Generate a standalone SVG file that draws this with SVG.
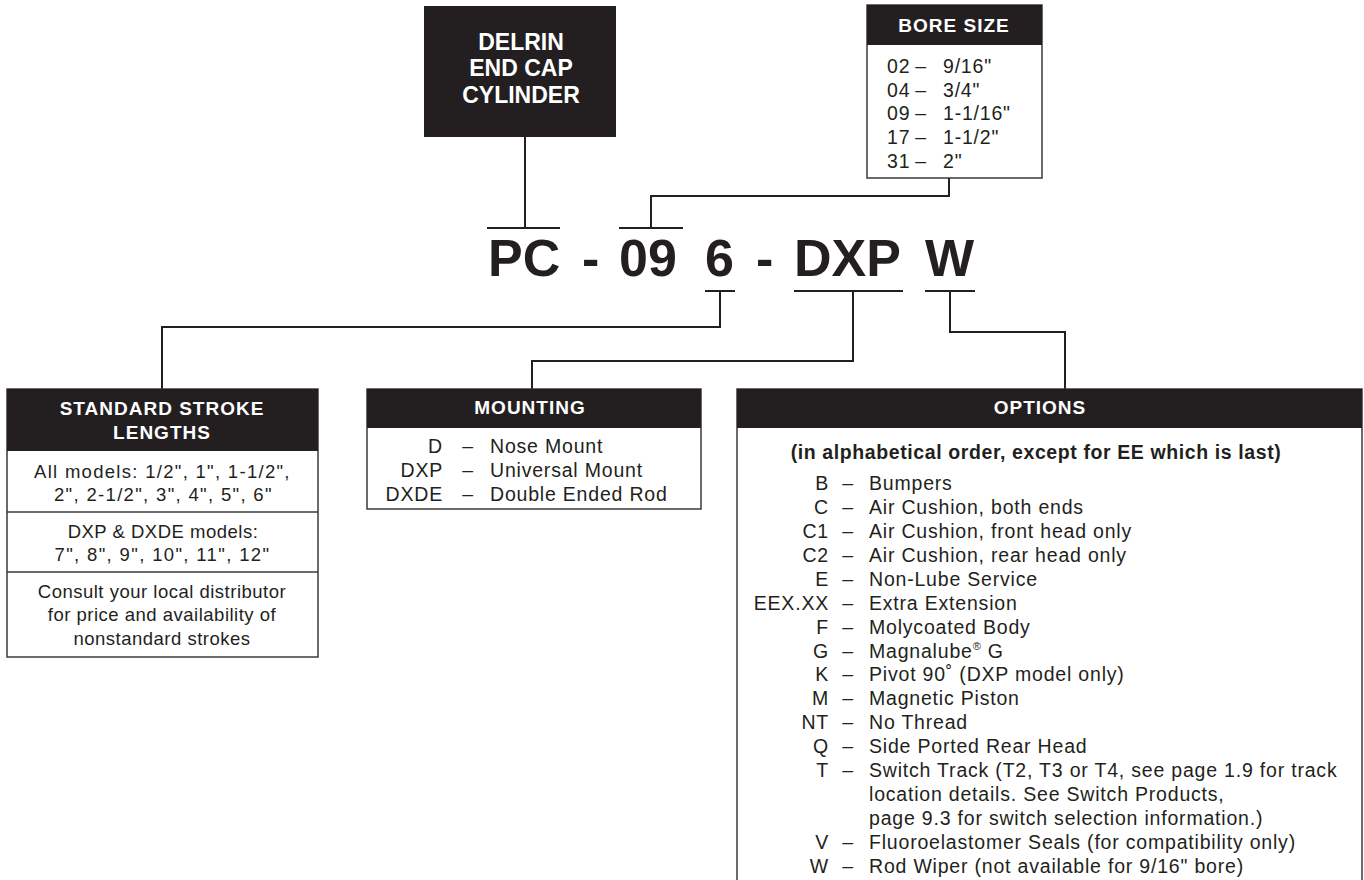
<svg xmlns="http://www.w3.org/2000/svg" width="1364" height="880" viewBox="0 0 1364 880">
<style>
.hdr{fill:#231f20}
.box{fill:#fff;stroke:#3a3a3a;stroke-width:1.5}
.conn{fill:none;stroke:#231f20;stroke-width:2}
.bar{stroke:#231f20;stroke-width:2}
.ht{font-family:"Liberation Sans",Arial,sans-serif;font-weight:bold;fill:#fff;font-size:19px;letter-spacing:1px;text-anchor:middle}
.big{font-family:"Liberation Sans",Arial,sans-serif;font-weight:bold;fill:#fff;font-size:23px;text-anchor:middle}
.bt{font-family:"Liberation Sans",Arial,sans-serif;font-size:19.5px;letter-spacing:0.8px;fill:#231f20}
.st{font-family:"Liberation Sans",Arial,sans-serif;font-size:18.5px;letter-spacing:0.5px;fill:#231f20;text-anchor:middle}
.sub{font-family:"Liberation Sans",Arial,sans-serif;font-size:19.5px;font-weight:bold;letter-spacing:0.6px;fill:#231f20;text-anchor:middle}
.code{font-family:"Liberation Sans",Arial,sans-serif;font-weight:bold;font-size:52px;fill:#231f20}
.e{text-anchor:end}
.m{text-anchor:middle}
</style>

<g id="connectors">
  <line class="bar" x1="487" y1="228" x2="560" y2="228"/>
  <line class="bar" x1="619" y1="228" x2="683" y2="228"/>
  <line class="bar" x1="705" y1="291" x2="735" y2="291"/>
  <line class="bar" x1="794" y1="291" x2="903" y2="291"/>
  <line class="bar" x1="925" y1="291" x2="975" y2="291"/>
  <path class="conn" d="M525,137 V228"/>
  <path class="conn" d="M949,178 V196 H651 V228"/>
  <path class="conn" d="M720,291 V327 H162 V389"/>
  <path class="conn" d="M853,291 V361 H532 V389"/>
  <path class="conn" d="M950,291 V332 H1065 V389"/>
</g>

<g id="model-code">
  <text class="code" y="276"><tspan x="488">PC</tspan><tspan x="582">-</tspan><tspan x="619">09</tspan><tspan x="705">6</tspan><tspan x="756">-</tspan><tspan x="794">DXP</tspan><tspan x="925">W</tspan></text>
</g>

<g id="delrin">
  <rect class="hdr" x="424" y="6" width="192" height="131"/>
  <text class="big" x="521" y="50">DELRIN</text>
  <text class="big" x="521" y="76">END CAP</text>
  <text class="big" x="521" y="103">CYLINDER</text>
</g>

<g id="bore-size">
  <rect class="box" x="867" y="5" width="175" height="173"/>
  <rect class="hdr" x="867" y="5" width="175" height="40"/>
  <text class="ht" x="954" y="32">BORE SIZE</text>
  <g class="bt">
    <text x="887" y="73">02</text><text class="m" x="921" y="73">–</text><text x="943" y="73">9/16"</text>
    <text x="887" y="97">04</text><text class="m" x="921" y="97">–</text><text x="943" y="97">3/4"</text>
    <text x="887" y="120">09</text><text class="m" x="921" y="120">–</text><text x="943" y="120">1-1/16"</text>
    <text x="887" y="144">17</text><text class="m" x="921" y="144">–</text><text x="943" y="144">1-1/2"</text>
    <text x="887" y="168">31</text><text class="m" x="921" y="168">–</text><text x="943" y="168">2"</text>
  </g>
</g>

<g id="stroke-lengths">
  <rect class="box" x="7" y="389" width="311" height="268"/>
  <rect class="hdr" x="7" y="389" width="311" height="62"/>
  <line class="box" x1="7" y1="512" x2="318" y2="512"/>
  <line class="box" x1="7" y1="572" x2="318" y2="572"/>
  <text class="ht" x="162" y="415">STANDARD STROKE</text>
  <text class="ht" x="162" y="439">LENGTHS</text>
  <text class="st" x="162" y="478" textLength="256" lengthAdjust="spacing">All models: 1/2", 1", 1-1/2",</text>
  <text class="st" x="163" y="501" textLength="218" lengthAdjust="spacing">2", 2-1/2", 3", 4", 5", 6"</text>
  <text class="st" x="163" y="538">DXP &amp; DXDE models:</text>
  <text class="st" x="162" y="561" textLength="215" lengthAdjust="spacing">7", 8", 9", 10", 11", 12"</text>
  <text class="st" x="162" y="598">Consult your local distributor</text>
  <text class="st" x="162" y="621">for price and availability of</text>
  <text class="st" x="162" y="645">nonstandard strokes</text>
</g>

<g id="mounting">
  <rect class="box" x="367" y="389" width="334" height="120"/>
  <rect class="hdr" x="367" y="389" width="334" height="39"/>
  <text class="ht" x="530" y="414">MOUNTING</text>
  <g class="bt">
    <text class="e" x="443" y="453">D</text><text class="m" x="468" y="453">–</text><text x="490" y="453">Nose Mount</text>
    <text class="e" x="443" y="477">DXP</text><text class="m" x="468" y="477">–</text><text x="490" y="477">Universal Mount</text>
    <text class="e" x="443" y="501">DXDE</text><text class="m" x="468" y="501">–</text><text x="490" y="501">Double Ended Rod</text>
  </g>
</g>

<g id="options">
  <rect class="box" x="737" y="389" width="625" height="520"/>
  <rect class="hdr" x="737" y="389" width="625" height="39"/>
  <text class="ht" x="1040" y="414">OPTIONS</text>
  <text class="sub" x="1036" y="459">(in alphabetical order, except for EE which is last)</text>
  <g class="bt">
    <text class="e" x="829" y="490">B</text><text class="m" x="848" y="490">–</text><text x="869" y="490">Bumpers</text>
    <text class="e" x="829" y="514">C</text><text class="m" x="848" y="514">–</text><text x="869" y="514">Air Cushion, both ends</text>
    <text class="e" x="829" y="538">C1</text><text class="m" x="848" y="538">–</text><text x="869" y="538">Air Cushion, front head only</text>
    <text class="e" x="829" y="562">C2</text><text class="m" x="848" y="562">–</text><text x="869" y="562">Air Cushion, rear head only</text>
    <text class="e" x="829" y="586">E</text><text class="m" x="848" y="586">–</text><text x="869" y="586">Non-Lube Service</text>
    <text class="e" x="829" y="610">EEX.XX</text><text class="m" x="848" y="610">–</text><text x="869" y="610">Extra Extension</text>
    <text class="e" x="829" y="634">F</text><text class="m" x="848" y="634">–</text><text x="869" y="634">Molycoated Body</text>
    <text class="e" x="829" y="658">G</text><text class="m" x="848" y="658">–</text><text x="869" y="658">Magnalube<tspan font-size="11" dy="-8">®</tspan><tspan dy="8"> G</tspan></text>
    <text class="e" x="829" y="681">K</text><text class="m" x="848" y="681">–</text><text x="869" y="681">Pivot 90˚ (DXP model only)</text>
    <text class="e" x="829" y="705">M</text><text class="m" x="848" y="705">–</text><text x="869" y="705">Magnetic Piston</text>
    <text class="e" x="829" y="729">NT</text><text class="m" x="848" y="729">–</text><text x="869" y="729">No Thread</text>
    <text class="e" x="829" y="753">Q</text><text class="m" x="848" y="753">–</text><text x="869" y="753">Side Ported Rear Head</text>
    <text class="e" x="829" y="777">T</text><text class="m" x="848" y="777">–</text><text x="869" y="777">Switch Track (T2, T3 or T4, see page 1.9 for track</text>
    <text x="869" y="801">location details. See Switch Products,</text>
    <text x="869" y="825">page 9.3 for switch selection information.)</text>
    <text class="e" x="829" y="849">V</text><text class="m" x="848" y="849">–</text><text x="869" y="849">Fluoroelastomer Seals (for compatibility only)</text>
    <text class="e" x="829" y="873">W</text><text class="m" x="848" y="873">–</text><text x="869" y="873">Rod Wiper (not available for 9/16" bore)</text>
  </g>
</g>
</svg>
